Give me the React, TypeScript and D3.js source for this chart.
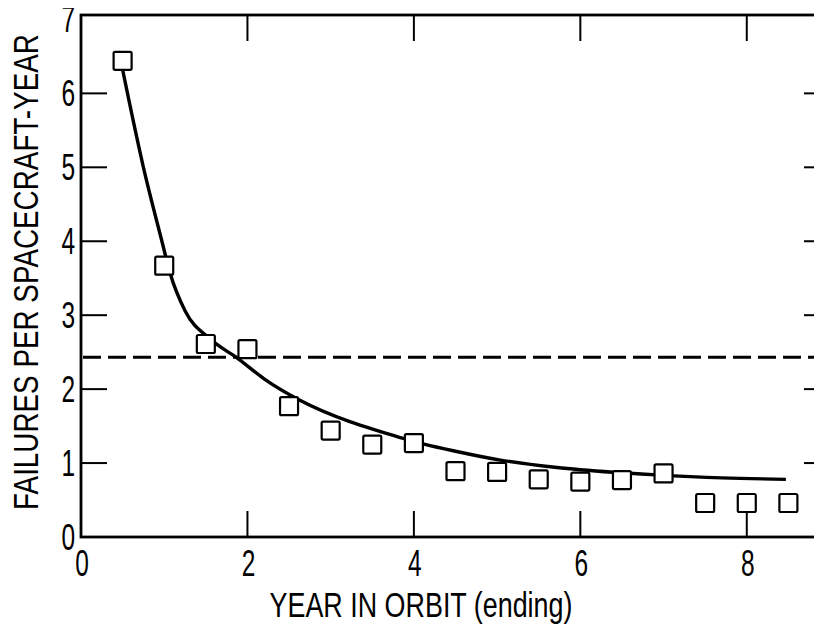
import { useEffect, useRef } from "react";
import * as d3 from "d3";

// observed failure rates, one square per half year
const years = [0.5, 1, 1.5, 2, 2.5, 3, 3.5, 4, 4.5, 5, 5.5, 6, 6.5, 7, 7.5, 8, 8.5];
const rates = [6.44, 3.67, 2.61, 2.54, 1.77, 1.44, 1.25, 1.27, 0.89, 0.88, 0.78, 0.75, 0.77, 0.86, 0.46, 0.46, 0.46];

// fitted curve
const fitX = [0.5, 0.75, 0.97, 1.07, 1.25, 1.55, 1.89, 2.2, 2.63, 3.23, 3.59, 4.11, 4.5, 5.04, 5.72, 6.0, 6.92, 7.7, 8.47];
const fitY = [6.32, 5.0, 4.01, 3.57, 3.06, 2.68, 2.41, 2.14, 1.85, 1.56, 1.43, 1.26, 1.16, 1.04, 0.94, 0.91, 0.84, 0.8, 0.78];

// mean rate (dashed)
const meanRate = 2.43;

const xTicks = [0, 2, 4, 6, 8];
const yTicks = [0, 1, 2, 3, 4, 5, 6, 7];

const FONT = "'Liberation Sans', Arial, sans-serif";

export default function App() {
  const svgRef = useRef<SVGSVGElement>(null);

  useEffect(() => {
    if (!svgRef.current) return;
    const svg = d3.select(svgRef.current);
    svg.selectAll("*").remove();

    const x = d3.scaleLinear().domain([0, 9]).range([81, 830]);
    const y = d3.scaleLinear().domain([0, 7.06]).range([537, 15]);

    const [x0, x1] = x.range();
    const [y0, y1] = y.range();

    // frame
    svg
      .append("rect")
      .attr("x", x0)
      .attr("y", y1)
      .attr("width", x1 - x0)
      .attr("height", y0 - y1)
      .attr("fill", "none")
      .attr("stroke", "#000")
      .attr("stroke-width", 2.8);

    const TL = 26;
    const inner = [1, 2, 3, 4, 5, 6];
    const g = svg.append("g").attr("stroke", "#000").attr("stroke-width", 2);
    inner.forEach((v) => {
      g.append("line").attr("x1", x0).attr("x2", x0 + TL).attr("y1", y(v)).attr("y2", y(v));
      g.append("line").attr("x1", x1).attr("x2", x1 - TL).attr("y1", y(v)).attr("y2", y(v));
    });
    xTicks.filter((v) => v > 0).forEach((v) => {
      g.append("line").attr("x1", x(v)).attr("x2", x(v)).attr("y1", y0).attr("y2", y0 - TL);
      g.append("line").attr("x1", x(v)).attr("x2", x(v)).attr("y1", y1).attr("y2", y1 + TL);
    });

    // tick labels (condensed look via horizontal scale)
    svg
      .append("g")
      .selectAll("text")
      .data(yTicks)
      .enter()
      .append("text")
      .attr("transform", (d) => `translate(75,${y(d)}) scale(0.72,1.06)`)
      .attr("dy", "0.36em")
      .attr("text-anchor", "end")
      .style("font-family", FONT)
      .style("font-size", "34px")
      .text((d) => d);

    svg
      .append("g")
      .selectAll("text")
      .data(xTicks)
      .enter()
      .append("text")
      .attr("transform", (d) => `translate(${x(d) + 1},576) scale(0.72,1.06)`)
      .attr("text-anchor", "middle")
      .style("font-family", FONT)
      .style("font-size", "34px")
      .text((d) => d);

    // axis titles, squeezed to the width they take in the original
    const squeezed = (label: string, width: number, tf: string) => {
      const t = svg
        .append("text")
        .attr("text-anchor", "middle")
        .style("font-family", FONT)
        .style("font-size", "33px")
        .text(label);
      const w = (t.node() as SVGTextElement).getComputedTextLength();
      t.attr("transform", `${tf} scale(${width / w},1.04)`);
    };
    squeezed("YEAR IN ORBIT (ending)", 303, "translate(421,617)");
    squeezed("FAILURES PER SPACECRAFT-YEAR", 476, "translate(38,272) rotate(-90)");

    // dashed mean line
    svg
      .append("line")
      .attr("x1", x0 + 2)
      .attr("x2", x1)
      .attr("y1", y(meanRate))
      .attr("y2", y(meanRate))
      .attr("stroke", "#000")
      .attr("stroke-width", 3)
      .attr("stroke-dasharray", "18 7");

    // fitted curve
    const line = d3
      .line<number>()
      .x((d) => x(d))
      .y((_d, i) => y(fitY[i]))
      .curve(d3.curveMonotoneX);
    svg
      .append("path")
      .attr("d", line(fitX))
      .attr("fill", "none")
      .attr("stroke", "#000")
      .attr("stroke-width", 3.4);

    // squares
    const S = 18;
    svg
      .append("g")
      .selectAll("rect")
      .data(years)
      .enter()
      .append("rect")
      .attr("x", (d) => x(d) - S / 2)
      .attr("y", (_d, i) => y(rates[i]) - S / 2)
      .attr("width", S)
      .attr("height", S)
      .attr("rx", 1.5)
      .attr("fill", "#fff")
      .attr("stroke", "#000")
      .attr("stroke-width", 2.2);
  }, []);

  return (
    <div style={{ margin: -8, width: 822, height: 632, background: "#fff", overflow: "hidden" }}>
      <svg ref={svgRef} width={822} height={632} style={{ display: "block" }} />
    </div>
  );
}
